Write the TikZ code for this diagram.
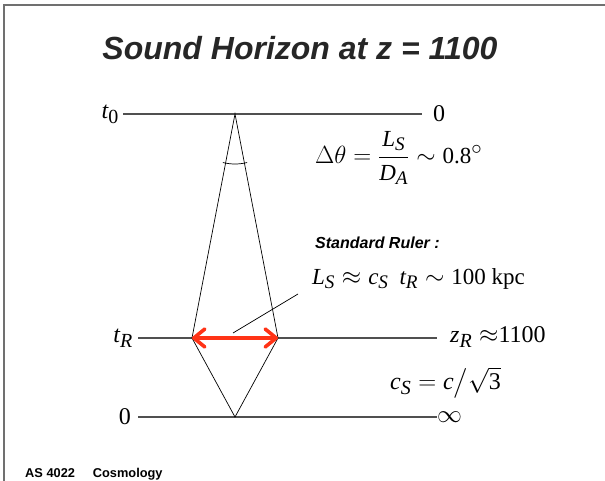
\documentclass[tikz,border=0pt]{standalone}
\usepackage{amsmath}
\usepackage{fontspec}
\setmainfont{Liberation Serif}
\setsansfont{Liberation Sans}
\usepackage[italic]{mathastext}
\usepackage{tikz}
\usetikzlibrary{arrows.meta}
\definecolor{framegray}{HTML}{707070}
\definecolor{epochgray}{HTML}{505050}
\definecolor{rulerred}{HTML}{FF3316}

\begin{document}
\begin{tikzpicture}[x=1pt, y=-1pt,
    epoch/.style={draw=epochgray, line width=1.2pt},
    ray/.style={draw=black, line width=0.7pt},
    lbl/.style={inner sep=0pt, font=\fontsize{24}{24}\selectfont},
    eqn/.style={inner sep=0pt, anchor=west, font=\fontsize{23}{23}\selectfont}]
    \useasboundingbox (0,0) rectangle (605,481);
    \draw[framegray, line width=1.6pt] (4,481) -- (4,5) -- (605,5);

    \node[font=\sffamily\bfseries\itshape\fontsize{32}{32}\selectfont,
          text=black!85] (title) at (300,48) {Sound Horizon at z = 1100};

    % light cone
    \coordinate (apex) at (235,114);
    \coordinate (left) at (192,338);
    \coordinate (right) at (278,338);
    \coordinate (origin) at (235,417);

    % epoch labels
    \node[lbl, anchor=east] (t0) at (119,114) {$t_{\text{0}}$};
    \node[lbl, anchor=east] (tR) at (133,338) {$t_R$};
    \node[lbl, anchor=east] (big0) at (131,417) {0};
    \node[lbl, anchor=west] (now) at (433,114) {0};
    \node[lbl, anchor=west] (zR) at (450,337) {$z_R \approx$1100};
    \node[lbl, anchor=west] (inf) at (437,417) {$\infty$};

    \draw[epoch] ([xshift=4pt]t0.east) -- ([xshift=-11pt]now.west);
    \draw[epoch] ([xshift=5pt]tR.east |- tR) -- ([xshift=-13pt]zR.west |- tR);
    \draw[epoch] ([xshift=7pt]big0.east) -- (inf.west);

    \draw[ray] (apex) -- (left) -- (origin) -- (right) -- cycle;
    \draw[ray] (apex) ++(76:50) arc (76:104:50);

    \node[eqn] (dtheta) at (315,158)
        {$\Delta\theta = \dfrac{L_S}{D_A} \sim \text{0.8}^{\circ}$};
    \node[anchor=west, inner sep=0pt,
          font=\sffamily\bfseries\itshape\fontsize{16}{16}\selectfont] (ruler)
        at (315,243) {Standard Ruler :};
    \node[eqn] (ls) at (312,279)
        {$L_S \approx c_S\;\, t_R \sim \text{100 kpc}$};
    \node[eqn, font=\fontsize{24}{24}\selectfont] (cs) at (390,383)
        {$c_S = c\big/\sqrt{\text{3}}$};

    \coordinate (rulerfoot) at (233,333);
    \coordinate (rulertip) at (298,294);
    \draw[ray] (rulerfoot) -- (rulertip);

    \draw[draw=rulerred, line width=3.6pt,
          {Straight Barb[length=11pt,width=18pt,round]}-{Straight Barb[length=11pt,width=18pt,round]}]
        (left) -- (right);

    \node[anchor=base west, inner sep=0pt,
          font=\sffamily\bfseries\fontsize{12.8}{13}\selectfont] (course)
        at (25,477) {AS 4022\hspace{1.4em}Cosmology};
\end{tikzpicture}
\end{document}
